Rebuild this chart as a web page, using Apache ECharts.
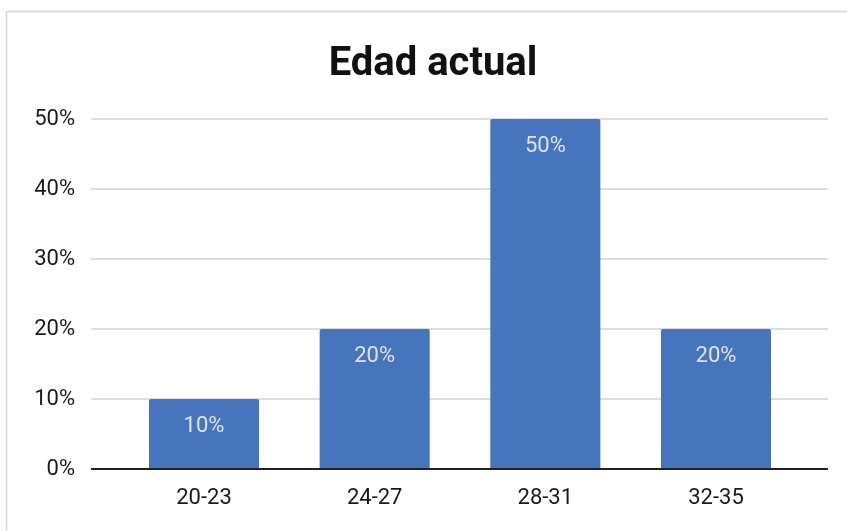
<!DOCTYPE html>
<html>
<head>
<meta charset="utf-8">
<script src="https://cdn.jsdelivr.net/npm/echarts@6/dist/echarts.min.js"></script>
<style>
html,body{margin:0;padding:0;background:#fff;}
#c{width:847px;height:531px;}
</style>
</head>
<body>
<div id="c"></div>
<script>
const title = 'Edad actual';
const categories = ['20-23', '24-27', '28-31', '32-35'];
const values = [10, 20, 50, 20];
const yTicks = [0, 10, 20, 30, 40, 50];

const chart = echarts.init(document.getElementById('c'), null, {renderer: 'canvas'});
const font = 'Roboto, "Noto Sans", sans-serif';
chart.setOption({
  animation: false,
  backgroundColor: '#fff',
  title: {
    text: title, left: 428, textAlign: 'center', top: 40,
    textStyle: {fontFamily: font, fontWeight: 'bold', fontSize: 40, color: '#111'}
  },
  graphic: [{
    type: 'polyline', silent: true,
    shape: {points: [[6.5, 540], [6.5, 11.5], [860, 11.5]]},
    style: {stroke: '#d6d6d6', lineWidth: 1.5, fill: null}
  }],
  grid: [
    {left: 91, right: 19, top: 119, bottom: 62},
    {left: 118.7, right: 45.7, top: 119, bottom: 62}
  ],
  xAxis: [
    {type: 'category', gridIndex: 0, data: categories, show: false},
    {type: 'category', gridIndex: 1, data: categories,
     axisLine: {show: false}, axisTick: {show: false},
     axisLabel: {fontFamily: font, fontSize: 22, color: '#1a1a1a', margin: 18}}
  ],
  yAxis: [
    {type: 'value', gridIndex: 0, min: yTicks[0], max: yTicks[yTicks.length - 1], interval: 10,
     axisLabel: {formatter: '{value}%', fontFamily: font, fontSize: 22, color: '#1a1a1a', margin: 16},
     axisLine: {show: false}, axisTick: {show: false},
     splitLine: {lineStyle: {color: '#cfd2d6', width: 1.5}}},
    {type: 'value', gridIndex: 1, min: yTicks[0], max: yTicks[yTicks.length - 1], interval: 10, show: false}
  ],
  series: [
    {type: 'bar', xAxisIndex: 1, yAxisIndex: 1, data: values, barWidth: '64.5%',
     itemStyle: {color: '#4675be', borderRadius: [2, 2, 0, 0]},
     label: {show: true, position: 'insideTop', distance: 16, formatter: '{c}%',
             fontFamily: font, fontSize: 22, color: '#dde4f0'}},
    {type: 'line', xAxisIndex: 0, yAxisIndex: 0, data: [],
     markLine: {silent: true, symbol: 'none', label: {show: false},
       lineStyle: {color: '#222', width: 2, type: 'solid'}, data: [{yAxis: 0}]}}
  ]
});
</script>
</body>
</html>
